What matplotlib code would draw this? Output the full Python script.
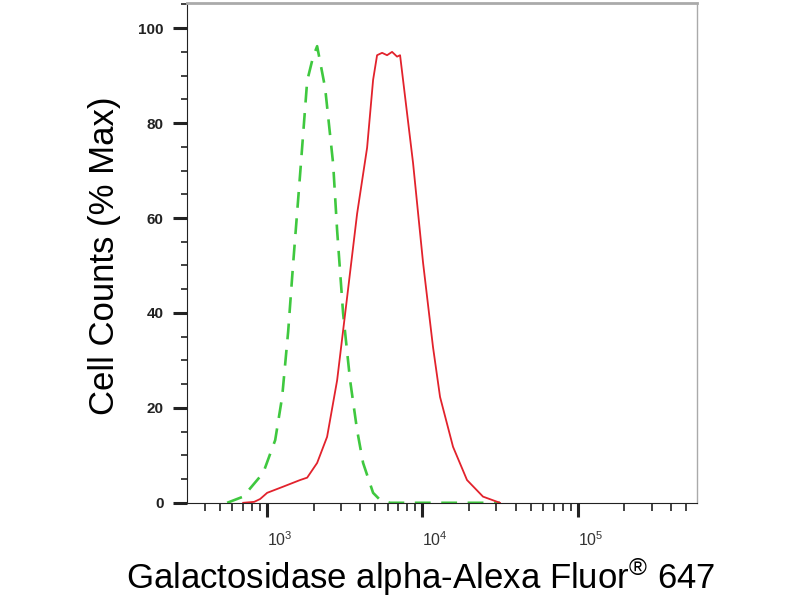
import matplotlib
matplotlib.use("Agg")
import matplotlib.pyplot as plt
from matplotlib.ticker import LogLocator, MultipleLocator, NullFormatter, FixedLocator
from matplotlib.transforms import ScaledTranslation

plt.rcParams['font.family'] = ['Liberation Sans', 'DejaVu Sans']
plt.rcParams['mathtext.fontset'] = 'custom'
plt.rcParams['mathtext.rm'] = 'Liberation Sans'
plt.rcParams['mathtext.it'] = 'Liberation Sans'

# isotype control (green dashed)
ctrl_x = [555, 704, 947, 1131, 1254, 1371, 1476, 1637, 1817, 1985, 2106,
          2371, 2670, 2832, 3095, 3433, 3808, 4161, 4827, 5354, 6209, 31620]
ctrl_y = [0, 1.3, 6.3, 13.2, 22.3, 36.1, 50.4, 69.3, 88.9, 94.0, 96.2,
          87.4, 71.4, 57.4, 39.9, 25.8, 15.3, 8.4, 2.1, 0.6, 0, 0]

# stained sample (red solid)
samp_x = [704, 829, 905, 1004, 1273, 1637, 1817, 2106, 2441, 2832, 3284, 3808,
          4416, 4827, 5120, 5515, 5937, 6393, 6886, 7199, 7524, 8726, 10120,
          11730, 13020, 15780, 19410, 24610, 31620]
samp_y = [0, 0.2, 0.8, 2.1, 3.4, 4.8, 5.3, 8.4, 13.9, 25.8, 43.3, 60.9,
          74.8, 89.1, 94.3, 94.8, 94.3, 95.0, 94.0, 94.3, 89.1, 71.6, 50.6,
          32.8, 22.3, 11.8, 4.8, 1.3, 0]

decades = [1e3, 1e4, 1e5]
decade_labels = [r'$10^3$', r'$10^4$', r'$10^5$']

fig = plt.figure(figsize=(8, 6), dpi=100)
ax = fig.add_axes([0.234, 0.162, 0.637, 0.833])

g, = ax.plot(ctrl_x, ctrl_y, color='#3fc83f', lw=1.9)
g.set_dashes([6, 4])
ax.plot(samp_x, samp_y, color='#e2222c', lw=1.3)

ax.set_xscale('log')
ax.set_xlim(307, 5.85e5)
ax.set_ylim(0, 105.3)

ax.xaxis.set_major_locator(FixedLocator(decades))
ax.xaxis.set_minor_locator(LogLocator(base=10, subs=range(2, 10)))
ax.xaxis.set_minor_formatter(NullFormatter())
ax.set_xticklabels(decade_labels)
ax.yaxis.set_major_locator(MultipleLocator(20))
ax.yaxis.set_minor_locator(MultipleLocator(5))

ax.tick_params(axis='both', which='major', direction='out', length=10, width=2.2,
               color='#222222')
ax.tick_params(axis='both', which='minor', direction='out', length=6, width=1.3,
               color='#333333')
ax.tick_params(axis='y', which='minor', length=4)
ax.tick_params(axis='x', which='major', pad=10, labelsize=11.5, labelcolor='#333333')
ax.tick_params(axis='y', which='major', pad=7, labelsize=11, labelcolor='#222222')
for lab in ax.get_yticklabels():
    lab.set_fontweight('bold')
# the decade labels sit a bit right of their ticks in the original
shift = ScaledTranslation(0.13, 0, fig.dpi_scale_trans)
for lab in ax.get_xticklabels():
    lab.set_transform(lab.get_transform() + shift)

ax.spines['left'].set_color('#222222')
ax.spines['bottom'].set_color('#222222')
ax.spines['top'].set_color('#aaaaaa')
ax.spines['right'].set_color('#aaaaaa')
ax.spines['top'].set_linewidth(2)
ax.spines['right'].set_linewidth(1)

ax.set_ylabel('Cell Counts (% Max)', fontsize=25)
ax.yaxis.set_label_coords(-0.13, 0.494)
ax.set_xlabel('Galactosidase alpha-Alexa Fluor$^{\u00ae}$ 647', fontsize=25)
ax.xaxis.set_label_coords(0.459, -0.106)

fig.savefig('out.png', dpi=100)
